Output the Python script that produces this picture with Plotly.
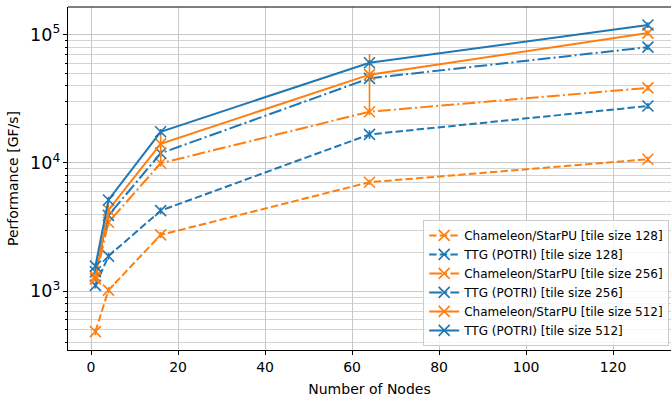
import plotly.graph_objects as go

nodes = [1, 4, 16, 64, 128]

cham_128 = [484, 1020, 2750, 7080, 10700]
ttg_128 = [1110, 1880, 4250, 16700, 27800]
cham_256 = [1250, 3450, 9950, 25100, 38500]
ttg_256 = [1420, 3900, 11900, 45700, 80000]
cham_512 = [1300, 4300, 14100, 48800, 103000]
ttg_512 = [1570, 5150, 17500, 60500, 119000]

# asymmetric error bars (upper, lower)
cham_128_err_up = [30, 60, 150, 350, 500]
cham_128_err_dn = [30, 60, 150, 350, 500]
ttg_128_err_up = [60, 120, 250, 1300, 1500]
ttg_128_err_dn = [60, 120, 250, 1300, 1500]
cham_256_err_up = [70, 250, 600, 1500, 2000]
cham_256_err_dn = [70, 250, 600, 1500, 2000]
ttg_256_err_up = [80, 250, 700, 2500, 4000]
ttg_256_err_dn = [80, 250, 700, 2500, 4000]
cham_512_err_up = [80, 500, 4000, 22000, 5000]
cham_512_err_dn = [80, 800, 4400, 23800, 5000]
ttg_512_err_up = [90, 300, 900, 3000, 6000]
ttg_512_err_dn = [90, 300, 900, 3000, 6000]

BLUE = "#1f77b4"
ORANGE = "#ff7f0e"

series = [
    ("Chameleon/StarPU [tile size 128]", cham_128, cham_128_err_up, cham_128_err_dn, ORANGE, "7.4px,3.2px"),
    ("TTG (POTRI) [tile size 128]", ttg_128, ttg_128_err_up, ttg_128_err_dn, BLUE, "7.4px,3.2px"),
    ("Chameleon/StarPU [tile size 256]", cham_256, cham_256_err_up, cham_256_err_dn, ORANGE, "12.8px,3.2px,2px,3.2px"),
    ("TTG (POTRI) [tile size 256]", ttg_256, ttg_256_err_up, ttg_256_err_dn, BLUE, "12.8px,3.2px,2px,3.2px"),
    ("Chameleon/StarPU [tile size 512]", cham_512, cham_512_err_up, cham_512_err_dn, ORANGE, "solid"),
    ("TTG (POTRI) [tile size 512]", ttg_512, ttg_512_err_up, ttg_512_err_dn, BLUE, "solid"),
]

fig = go.Figure()
for name, ys, eu, ed, col, dash in series:
    fig.add_trace(go.Scatter(
        x=nodes, y=ys, name=name, mode="lines+markers",
        line=dict(color=col, width=2, dash=dash),
        marker=dict(symbol="x-thin", size=11, line=dict(color=col, width=1.6), color=col),
        error_y=dict(type="data", symmetric=False, array=eu, arrayminus=ed,
                     width=0, thickness=1.6, color=col),
    ))

font = "DejaVu Sans, sans-serif"
fig.update_layout(
    width=671, height=403,
    margin=dict(l=68, r=0, t=7, b=53),
    paper_bgcolor="white", plot_bgcolor="white",
    font=dict(family=font, size=14, color="black"),
    showlegend=True,
    legend=dict(
        x=0.997, y=0.012, xanchor="right", yanchor="bottom",
        bgcolor="rgba(255,255,255,0.8)", bordercolor="#cccccc", borderwidth=1,
        font=dict(family=font, size=12), tracegroupgap=0, itemwidth=30,
    ),
    xaxis=dict(
        range=[-5.3, 133.3], tickmode="array", tickvals=[0, 20, 40, 60, 80, 100, 120],
        showgrid=True, gridcolor="#c8c8c8", gridwidth=1,
        showline=True, linecolor="black", linewidth=1,
        ticks="outside", ticklen=4, tickcolor="black",
        zeroline=False,
        title=dict(text="Number of Nodes", standoff=10, font=dict(size=14)),
        tickfont=dict(size=14),
    ),
    yaxis=dict(
        type="log", range=[2.542, 5.216], dtick=1, exponentformat="power",
        showgrid=True, gridcolor="#c8c8c8", gridwidth=1,
        showline=True, linecolor="black", linewidth=1,
        ticks="outside", ticklen=4, tickcolor="black",
        minor=dict(dtick="D1", ticks="outside", ticklen=2, tickcolor="black",
                   showgrid=True, gridcolor="#d4d4d4", gridwidth=1),
        zeroline=False,
        title=dict(text="Performance [GF/s]", standoff=8, font=dict(size=14)),
        tickfont=dict(size=14),
    ),
    shapes=[dict(type="line", xref="paper", yref="paper", x0=0, x1=1, y0=1, y1=1,
                 line=dict(color="black", width=1))],
)

fig.write_html("out.html")
